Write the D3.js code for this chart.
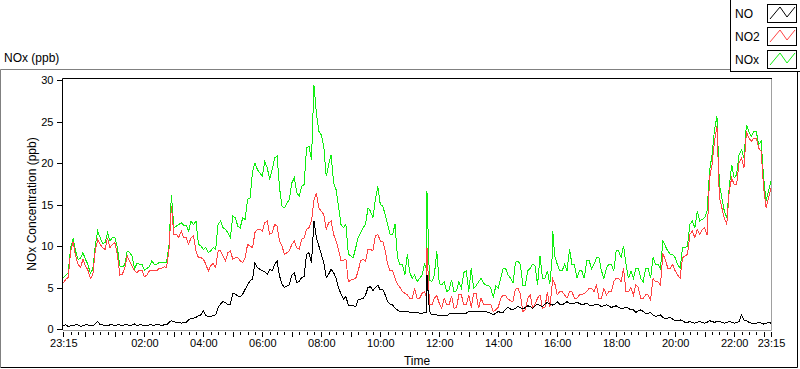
<!DOCTYPE html>
<meta charset="utf-8">
<title>NOx (ppb)</title>
<style>
body { margin: 0; background: #fff; }
svg { display: block; font-family: "Liberation Sans", Arial, sans-serif; }
.axis text { font-size: 11px; fill: #000; }
.axis path { display: none; }
.axis line { stroke: #000; shape-rendering: crispEdges; }
.line { fill: none; stroke-width: 1; shape-rendering: crispEdges; }
</style>
<svg width="800" height="369"></svg>
<script src="https://cdn.jsdelivr.net/npm/d3@7"></script>
<script>
'use strict';

// readings every 5 min, starting 23:15
const startTime = new Date(2020, 0, 1, 23, 15);
const stepMinutes = 5;

const no = [
  0.4,0.5,0.3,0.4,0.4,0.5,0.5,0.3,0.4,0.5,0.5,0.4,0.4,0.6,0.9,0.5,0.5,0.4,0.4,0.5,0.5,0.4,0.5,0.5,0.4,0.5,0.5,0.4,0.5,0.6,
  0.4,0.5,0.5,0.4,0.4,0.5,0.5,0.4,0.6,0.5,0.4,0.5,0.5,0.8,1.0,0.9,0.8,0.8,0.7,0.8,0.8,1.1,1.3,1.3,1.4,1.6,1.7,2.2,
  1.6,1.5,1.5,1.6,1.7,2.6,3.0,3.3,3.2,2.9,3.0,4.3,4.2,4.0,3.9,4.2,4.8,5.3,5.8,6.0,8.0,7.4,7.2,7.0,6.9,6.6,7.2,7.0,7.8,8.2,
  6.4,5.4,5.0,5.2,5.3,6.5,6.8,5.6,5.7,6.2,6.3,9.0,9.2,8.0,13.0,11.0,10.0,9.0,8.0,6.2,6.6,7.2,6.8,6.1,5.0,4.2,3.6,3.9,
  2.9,2.8,2.8,2.7,3.5,3.6,3.7,4.1,5.0,5.1,4.6,5.0,5.3,4.7,4.8,4.1,3.3,3.0,2.9,2.5,2.3,2.1,2.1,2.1,2.1,2.0,2.0,2.0,2.0,1.9,
  1.9,2.0,2.0,2.1,1.7,1.7,1.7,1.6,1.6,1.6,1.6,1.8,1.9,1.9,1.9,1.9,1.9,1.9,1.9,2.1,2.1,2.1,2.1,2.1,2.1,2.1,2.1,2.0,
  1.9,1.7,1.9,2.1,2.0,2.0,2.4,2.6,2.4,2.3,2.5,2.7,2.6,2.4,2.6,2.8,2.7,2.5,2.8,3.0,2.8,2.7,3.0,3.2,3.0,2.9,3.0,3.3,3.0,2.9,
  3.1,3.3,3.1,3.0,3.1,3.2,3.1,2.9,3.0,3.1,2.9,2.8,2.9,3.0,2.9,2.7,2.8,2.9,2.8,2.6,2.7,2.8,2.6,2.5,2.5,2.6,2.5,2.3,
  2.3,2.0,2.2,2.3,2.1,1.9,1.9,2.0,1.7,1.5,1.6,1.7,1.4,1.2,1.3,1.4,1.2,1.0,1.0,1.1,1.0,0.8,0.8,0.9,0.8,0.7,0.8,0.9,0.8,0.7,
  0.8,1.0,0.9,0.8,0.9,0.9,0.8,0.7,0.8,0.9,0.8,0.7,0.8,0.9,1.7,1.1,1.0,0.8,0.7,0.6,0.7,0.8,0.7,0.6,0.7,0.8,0.7
];
const no2 = [
  5.5,6.0,6.2,9.4,10.5,8.8,7.8,7.4,8.4,7.6,7.1,6.1,6.5,9.4,10.8,10.2,9.8,9.6,11.0,9.8,10.2,10.4,9.0,6.5,6.6,7.3,8.8,8.2,7.6,7.0,
  6.8,7.1,7.1,6.3,6.5,7.0,7.1,7.0,7.0,7.3,7.3,7.5,7.4,9.5,14.8,11.4,11.4,11.0,11.8,11.0,11.0,10.2,11.0,11.2,9.4,8.6,8.6,8.4,
  7.8,7.0,7.6,7.9,7.4,9.4,9.4,8.8,8.2,9.2,9.4,8.4,8.6,8.6,8.2,8.0,8.6,10.2,10.0,9.8,11.6,12.0,12.0,11.8,12.8,13.0,11.4,11.6,12.6,12.4,
  10.6,10.0,9.0,9.2,9.4,10.2,10.6,9.8,9.6,10.8,11.0,12.0,12.2,13.0,15.5,16.4,14.6,14.2,13.8,12.0,12.8,13.0,11.4,10.6,9.6,8.2,8.3,8.4,
  5.7,5.9,6.0,6.1,7.0,8.2,8.4,8.2,9.6,9.6,9.4,11.2,11.4,10.6,10.6,9.4,7.8,7.0,7.0,6.1,5.4,5.0,4.5,4.3,4.1,3.7,3.7,4.9,3.7,3.7,
  4.3,4.5,3.7,3.0,2.9,3.7,4.0,3.1,2.5,3.7,3.0,2.9,4.0,2.5,2.6,4.1,4.1,2.9,2.9,4.1,2.6,4.3,4.3,2.5,3.7,3.0,2.9,2.9,
  2.9,2.1,2.3,2.6,3.7,4.1,4.0,3.6,3.4,3.3,4.8,4.9,4.2,2.1,2.3,3.7,4.1,2.5,3.0,3.7,4.1,2.5,2.6,4.5,2.6,5.5,5.5,4.1,4.5,4.5,
  4.1,3.7,4.5,4.5,3.7,3.7,4.1,4.1,4.3,4.5,4.9,4.9,4.5,5.3,3.7,3.7,4.9,4.1,4.5,4.5,5.7,6.1,6.1,5.7,7.3,4.5,4.5,5.0,
  4.1,5.3,5.0,3.7,3.7,4.1,4.1,3.5,6.1,5.7,5.7,5.3,9.0,8.4,7.3,7.3,7.8,7.0,6.5,6.1,8.6,8.8,9.0,11.4,11.8,11.0,12.0,11.4,12.0,12.2,
  11.3,18.2,19.8,22.6,24.4,15.8,14.6,13.4,12.6,16.6,18.2,17.4,17.4,20.0,20.6,19.4,23.8,23.0,22.6,23.0,23.0,21.8,21.4,17.0,14.6,15.8,17.0
];
const nox = [
  6.2,6.5,6.8,9.8,10.9,9.4,8.4,8.5,9.2,8.4,7.8,6.7,7.2,10.0,11.8,11.0,10.3,10.4,11.6,10.6,11.0,11.0,9.8,7.6,7.5,7.7,9.4,9.2,8.8,7.3,
  7.9,7.8,7.8,7.1,7.3,7.5,8.2,7.8,7.8,8.0,8.0,8.0,8.0,10.0,16.2,12.2,12.4,12.6,12.8,12.5,12.5,11.8,13.0,12.6,13.0,10.2,10.0,9.6,
  9.8,9.2,9.4,9.8,9.6,12.6,13.0,12.2,12.0,11.6,11.0,13.6,13.4,12.4,12.2,13.4,13.2,15.6,15.8,19.0,20.0,19.2,18.8,18.4,20.2,19.4,18.0,19.2,20.6,20.8,
  17.0,14.8,14.6,15.2,15.6,17.6,18.2,16.4,16.0,17.2,17.4,21.8,22.0,20.4,29.4,26.0,23.8,23.4,22.0,18.4,19.8,21.0,17.6,16.8,14.8,12.6,12.2,12.6,
  9.0,8.8,8.6,9.8,11.0,11.6,12.2,12.6,14.6,14.2,13.4,15.6,17.2,15.0,14.8,13.8,12.6,11.4,11.4,12.6,8.6,7.8,7.8,6.5,9.0,6.8,6.1,6.5,5.7,6.1,
  6.5,7.8,7.0,5.9,5.7,6.5,9.4,5.5,5.3,5.7,4.5,4.7,5.9,4.5,4.6,5.7,4.9,6.8,7.0,4.5,7.3,4.9,5.2,5.7,6.1,5.5,5.3,5.3,
  4.9,3.8,5.2,4.9,6.1,7.3,7.3,6.5,6.1,5.5,8.0,8.2,7.8,5.3,5.3,7.0,7.3,7.8,7.6,5.3,8.8,6.1,6.1,7.0,5.4,8.8,8.8,7.8,7.0,7.0,
  7.8,7.0,9.6,7.8,7.8,6.1,7.0,7.0,6.1,8.2,8.2,7.3,7.8,8.6,8.6,7.0,6.1,7.3,7.8,7.8,7.0,9.4,9.4,8.6,10.0,7.8,6.1,7.0,
  6.1,7.3,7.3,6.1,5.7,7.3,7.3,6.1,8.6,7.8,7.8,7.3,10.6,10.0,9.4,9.0,9.0,8.6,7.8,7.3,9.8,9.8,10.0,12.6,13.0,12.2,14.2,13.0,13.2,13.4,
  14.2,19.0,21.0,24.0,25.6,17.4,15.8,14.2,13.4,17.0,19.8,18.2,18.6,21.0,21.6,20.6,24.6,23.8,23.2,23.8,23.8,22.2,22.6,18.2,15.4,16.6,17.8
];

// short spikes between the readings (minutes after start)
const spikeMinutes = [740, 996];
const spikeNo = [6.5, 3.0];
const spikeNo2 = [9.8, 6.0];
const spikeNox = [16.6, 11.8];

const yTicks = [0, 5, 10, 15, 20, 25, 30];
const seriesNames = ["NO", "NO2", "NOx"];
const seriesColors = ["#000000", "#ff4444", "#11ee11"];

const svg = d3.select("svg");
const plot = {left: 62, top: 78, right: 772, bottom: 330};

const endTime = d3.timeHour.offset(startTime, 24);
const x = d3.scaleTime().domain([startTime, endTime]).range([63.3, 771]);
const y = d3.scaleLinear().domain([0, 30]).range([329, 80]);

function toPoints(vals, spikes) {
  const pts = vals.map((v, i) => ({t: d3.timeMinute.offset(startTime, i * stepMinutes), v: v}));
  spikeMinutes.forEach((m, i) => pts.push({t: d3.timeMinute.offset(startTime, m), v: spikes[i]}));
  return pts.sort((a, b) => a.t - b.t);
}

const series = [
  {name: "NOx", color: seriesColors[2], pts: toPoints(nox, spikeNox)},
  {name: "NO2", color: seriesColors[1], pts: toPoints(no2, spikeNo2)},
  {name: "NO", color: seriesColors[0], pts: toPoints(no, spikeNo)}
];

// outer panel
svg.append("rect").attr("width", 800).attr("height", 369).attr("fill", "#fff");
svg.append("path").attr("d", "M0.5,367V69.5H797").attr("fill", "none").attr("stroke", "#808080");
svg.append("path").attr("d", "M0.5,367.5H797.5V69").attr("fill", "none").attr("stroke", "#000");

svg.append("text").attr("x", 4).attr("y", 62).style("font-size", "12px").text("NOx (ppb)");

// plot area
svg.append("clipPath").attr("id", "clip").append("rect")
  .attr("x", plot.left + 1).attr("y", plot.top + 1)
  .attr("width", plot.right - plot.left - 2).attr("height", plot.bottom - plot.top - 1);

const line = d3.line().x(d => x(d.t)).y(d => y(d.v));
const g = svg.append("g").attr("clip-path", "url(#clip)");
series.forEach(s => {
  g.append("path").datum(s.pts).attr("class", "line")
    .attr("stroke", s.color).attr("d", line);
});

svg.append("path").attr("d", `M${plot.left + 0.5},${plot.bottom}V${plot.top + 0.5}H${plot.right}`)
  .attr("fill", "none").attr("stroke", "#000");
svg.append("path").attr("d", `M${plot.left + 1},${plot.bottom + 0.5}H${plot.right - 0.5}V${plot.top + 1}`)
  .attr("fill", "none").attr("stroke", "#a0a0a0");

// y axis
svg.append("g").attr("class", "axis").attr("transform", `translate(${plot.left - 0.5},0)`)
  .call(d3.axisLeft(y).tickValues(yTicks).tickSize(5).tickPadding(3));

// x axis: minor ticks every 15 min, hour ticks, labels every 2 h
const fmt = d3.timeFormat("%H:%M");
svg.append("g").attr("class", "axis").attr("transform", `translate(0,${plot.bottom + 2})`)
  .call(d3.axisBottom(x).tickValues(d3.timeMinute.every(15).range(startTime, d3.timeMinute.offset(endTime, 1)))
    .tickSize(3).tickFormat(""));
const hourTicks = [startTime].concat(d3.timeHour.every(1).range(d3.timeMinute.offset(startTime, 1), endTime), [endTime]);
svg.append("g").attr("class", "axis").attr("transform", `translate(0,${plot.bottom + 2})`)
  .call(d3.axisBottom(x).tickValues(hourTicks).tickSize(5).tickFormat(""));
const labelTicks = [startTime].concat(d3.timeHour.every(2).range(d3.timeHour.offset(startTime, 1), endTime), [endTime]);
svg.append("g").attr("class", "axis").attr("transform", `translate(0,${plot.bottom + 2})`)
  .call(d3.axisBottom(x).tickValues(labelTicks).tickSize(0).tickPadding(7).tickFormat(fmt));

svg.append("text").attr("x", (plot.left + plot.right) / 2).attr("y", 365)
  .attr("text-anchor", "middle").style("font-size", "12px").text("Time");
svg.append("text").attr("transform", `translate(36,${(plot.top + plot.bottom) / 2}) rotate(-90)`)
  .attr("text-anchor", "middle").style("font-size", "12px").text("NOx Concentration (ppb)");

// legend
const legend = svg.append("g");
legend.append("rect").attr("x", 730.5).attr("y", -1).attr("width", 72).attr("height", 72.5)
  .attr("fill", "#fff").attr("stroke", "#000");
const zig = d3.line();
seriesNames.forEach((name, i) => {
  const top = 4 + i * 23;
  legend.append("text").attr("x", 735).attr("y", top + 13.5).style("font-size", "12px").text(name);
  legend.append("rect").attr("x", 767.5).attr("y", top + 0.5).attr("width", 29).attr("height", 18)
    .attr("fill", "#fff").attr("stroke", "#000");
  legend.append("path").attr("fill", "none").attr("stroke", seriesColors[i])
    .attr("d", zig([[770, top + 15], [780, top + 3], [787, top + 13], [795, top + 3]]));
});
</script>
